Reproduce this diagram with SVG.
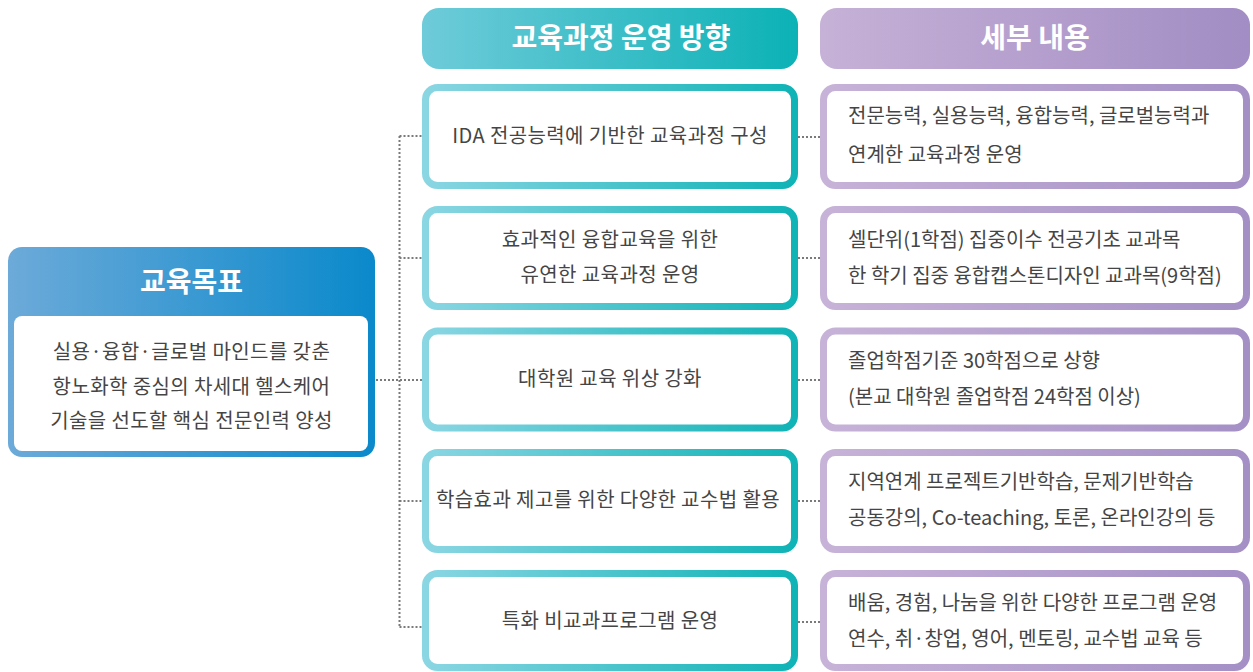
<svg xmlns="http://www.w3.org/2000/svg" width="1253" height="672" viewBox="0 0 1253 672">
<defs>
<linearGradient id="gBlue" x1="0" y1="0" x2="1" y2="0"><stop offset="0" stop-color="#6caad9"/><stop offset="1" stop-color="#0a89cb"/></linearGradient>
<linearGradient id="gTeal" x1="0" y1="0" x2="1" y2="0"><stop offset="0" stop-color="#6fcbd9"/><stop offset="1" stop-color="#0bb2b6"/></linearGradient>
<linearGradient id="gTealB" x1="0" y1="0" x2="1" y2="0"><stop offset="0" stop-color="#8ad6e3"/><stop offset="1" stop-color="#10b3b6"/></linearGradient>
<linearGradient id="gPurp" x1="0" y1="0" x2="1" y2="0"><stop offset="0" stop-color="#c6b1d7"/><stop offset="1" stop-color="#a28dc4"/></linearGradient>
<linearGradient id="gPurpB" x1="0" y1="0" x2="1" y2="0"><stop offset="0" stop-color="#c7b3d8"/><stop offset="1" stop-color="#a590c6"/></linearGradient>
</defs>
<style>
text{font-family:"Noto Sans CJK KR","Noto Sans",sans-serif;}
.t{font-size:20px;fill:#454545;letter-spacing:0.4px;}
.r{font-size:20px;fill:#454545;}
.c{text-anchor:middle;}
.h{font-size:28px;font-weight:bold;fill:#fff;text-anchor:middle;}
.mid{fill:#fff;stroke:url(#gTealB);stroke-width:7;}
.det{fill:#fff;stroke:url(#gPurpB);stroke-width:7;}
.dot{fill:none;stroke:#7a7a7a;stroke-width:2;stroke-dasharray:2 2;}
</style>
<g id="connectors">
<path class="dot" d="M399.5 136 V627"/>
<path class="dot" d="M376 380 H422"/>
<path class="dot" d="M399.5 136 H422 M399.5 258 H422 M399.5 501 H422 M399.5 627 H422"/>
<path class="dot" d="M798 137 H820 M798 258 H820 M798 380 H820 M798 501 H820 M798 622 H820"/>
</g>
<g id="goal">
<rect x="8" y="247" width="367" height="210" rx="14" fill="url(#gBlue)"/>
<rect x="14" y="316" width="354" height="135" rx="8" fill="#fff"/>
<text class="h" x="191.5" y="292">교육목표</text>
<text class="t c" x="191.5" y="359">실용·융합·글로벌 마인드를 갖춘</text>
<text class="t c" x="191.5" y="394">항노화학 중심의 차세대 헬스케어</text>
<text class="t c" x="191.5" y="428">기술을 선도할 핵심 전문인력 양성</text>
</g>
<g id="header-direction">
<rect x="422" y="8" width="376" height="61" rx="17" fill="url(#gTeal)"/>
<text class="h" x="621" y="48">교육과정 운영 방향</text>
</g>
<g id="header-detail">
<rect x="820" y="8" width="430" height="61" rx="17" fill="url(#gPurp)"/>
<text class="h" x="1035" y="48">세부 내용</text>
</g>
<g id="dir1"><rect class="mid" x="425.5" y="87.5" width="369" height="98" rx="12"/><text class="t c" x="610" y="143">IDA 전공능력에 기반한 교육과정 구성</text></g>
<g id="dir2"><rect class="mid" x="425.5" y="209.5" width="369" height="97" rx="12"/><text class="t c" x="610" y="247">효과적인 융합교육을 위한</text><text class="t c" x="610" y="282">유연한 교육과정 운영</text></g>
<g id="dir3"><rect class="mid" x="425.5" y="331" width="369" height="97" rx="12"/><text class="t c" x="610" y="386">대학원 교육 위상 강화</text></g>
<g id="dir4"><rect class="mid" x="425.5" y="452.5" width="369" height="97" rx="12"/><text class="t c" x="608" y="507">학습효과 제고를 위한 다양한 교수법 활용</text></g>
<g id="dir5"><rect class="mid" x="425.5" y="573.5" width="369" height="94" rx="12"/><text class="t c" x="610" y="628">특화 비교과프로그램 운영</text></g>
<g id="det1"><rect class="det" x="823.5" y="87.5" width="423" height="98" rx="12"/><text class="r" x="848" y="123">전문능력, 실용능력, 융합능력, 글로벌능력과</text><text class="r" x="848" y="162">연계한 교육과정 운영</text></g>
<g id="det2"><rect class="det" x="823.5" y="209.5" width="423" height="97" rx="12"/><text class="r" x="848" y="247">셀단위(1학점) 집중이수 전공기초 교과목</text><text class="r" x="848" y="283">한 학기 집중 융합캡스톤디자인 교과목(9학점)</text></g>
<g id="det3"><rect class="det" x="823.5" y="331" width="423" height="97" rx="12"/><text class="r" x="848" y="368">졸업학점기준 30학점으로 상향</text><text class="r" x="848" y="404">(본교 대학원 졸업학점 24학점 이상)</text></g>
<g id="det4"><rect class="det" x="823.5" y="452.5" width="423" height="97" rx="12"/><text class="r" x="848" y="489">지역연계 프로젝트기반학습, 문제기반학습</text><text class="r" x="848" y="525">공동강의, Co-teaching, 토론, 온라인강의 등</text></g>
<g id="det5"><rect class="det" x="823.5" y="573.5" width="423" height="94" rx="12"/><text class="r" x="848" y="610">배움, 경험, 나눔을 위한 다양한 프로그램 운영</text><text class="r" x="848" y="646">연수, 취·창업, 영어, 멘토링, 교수법 교육 등</text></g>
</svg>
